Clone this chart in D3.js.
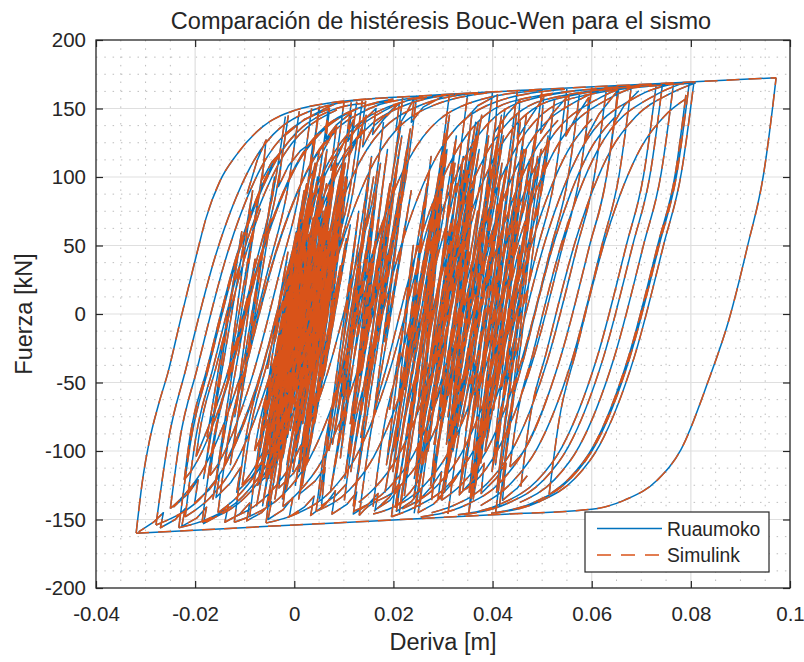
<!DOCTYPE html>
<html><head><meta charset="utf-8">
<script src="https://cdn.jsdelivr.net/npm/d3@7"></script>
<style>
body{margin:0;background:#fff;}
svg text{font-family:"Liberation Sans",Arial,Helvetica,sans-serif;fill:#262626;}
</style></head><body>
<svg id="chart" width="804" height="662"></svg>
<script>
// ---------- axis ticks / labels ----------
const xTickValues = [-0.04,-0.02,0,0.02,0.04,0.06,0.08,0.1];
const xTickLabels = ["-0.04","-0.02","0","0.02","0.04","0.06","0.08","0.1"];
const yTickValues = [-200,-150,-100,-50,0,50,100,150,200];
const yTickLabels = ["-200","-150","-100","-50","0","50","100","150","200"];
const seriesNames = ["Ruaumoko","Simulink"];
const titleText = "Comparación de histéresis Bouc-Wen para el sismo";
const xLabelText = "Deriva [m]";
const yLabelText = "Fuerza [kN]";

// ---------- data: [deriva (m), fuerza (kN)] ----------
const outerLoop = [
 [[-0.0319,-160],[-0.0306,-121],[-0.0293,-94],[-0.0273,-65],[-0.0255,-43],[-0.023,-5],[-0.0196,45],[-0.0178,70],[-0.015,97],[-0.0117,116],[-0.0063,137],[0.0004,149],[0.0071,154],[0.027,159.5],[0.05,164],[0.078,169],[0.0972,172.5]],
 [[0.0972,172.5],[0.0965,151],[0.0948,105],[0.0914,49],[0.0877,-4],[0.0834,-50],[0.078,-99],[0.0733,-121],[0.0665,-136],[0.06,-142.5],[0.04,-146.5],[0.02,-150.3],[0,-154],[-0.02,-157.8],[-0.0319,-160]]
];
const leftRising = [
 [[-0.0279,-154],[-0.0254,-92],[-0.0219,-40.5],[-0.0159,42.5],[-0.0089,107],[0.0031,148],[0.0166,157.5]],
 [[-0.025,-142],[-0.0231,-92],[-0.0196,-40],[-0.0136,43],[-0.0066,107.5],[0.0054,148.5],[0.0091,154.5]],
 [[-0.0233,-156],[-0.0208,-91],[-0.0173,-39.5],[-0.0113,43.5],[-0.0043,108],[0.0077,149],[0.0145,154]],
 [[-0.022,-148],[-0.0199,-91],[-0.0164,-39.5],[-0.0104,43.5],[-0.0034,108],[0.0086,149]],
 [[-0.0198,-104],[-0.0193,-91],[-0.0158,-39],[-0.0098,43.5],[-0.0068,77]],
 [[-0.0186,-152],[-0.0162,-90],[-0.0127,-38.5],[-0.0067,44],[0.0003,108.5],[0.0123,149.5],[0.0212,156]],
 [[-0.0154,-145],[-0.0133,-90],[-0.0098,-38],[-0.0038,44.5],[0.0032,109],[0.0152,150],[0.0242,157.6]],
 [[-0.0121,-152],[-0.0097,-89],[-0.0062,-37.5],[-0.0002,45],[0.0068,110],[0.0188,151],[0.03,159.5]],
 [[-0.009,-148],[-0.0068,-88.5],[-0.0033,-37],[0.0027,46],[0.0097,110.5],[0.0217,151.5],[0.034,161]],
 [[-0.0057,-152.6],[-0.0033,-88],[0.0002,-36.5],[0.0062,46.5],[0.0132,111],[0.0252,152],[0.038,161.8]],
 [[-0.0023,-140.6],[-0.0003,-87.5],[0.0032,-36],[0.0092,47],[0.0162,111.5],[0.0282,152.5],[0.042,162.5]],
 [[-0.0222,-121],[-0.0211,-91],[-0.0176,-40],[-0.0116,43],[-0.0046,108],[0.0004,132]],
 [[-0.017,-118],[-0.016,-90.5],[-0.0125,-39],[-0.0065,44],[0.0005,108.7],[0.0055,132.8],[0.0125,149.5],[0.02,157]],
 [[-0.014,-110],[-0.0132,-90],[-0.0097,-38.4],[-0.0037,44.6],[0.0033,109],[0.0083,133.3]],
 [[-0.0105,-125],[-0.0091,-89],[-0.0056,-37.6],[0.0004,45.4],[0.0074,110],[0.0194,150.8],[0.026,159]],
 [[-0.008,-100],[-0.0075,-89],[-0.004,-37.3],[0.002,45.7],[0.009,110.2],[0.014,134.3]]
];
const leftFalling = [
 [[0.0051,151.5],[0.0026,89],[-0.0009,37.5],[-0.0069,-45.6],[-0.0139,-110],[-0.0189,-134.4],[-0.0259,-151],[-0.0279,-154]],
 [[0.001,148],[-0.0015,88.2],[-0.005,36.7],[-0.011,-46.4],[-0.018,-110.8],[-0.023,-135.2],[-0.025,-142]],
 [[0.0137,155.5],[0.0112,90.6],[0.0077,39.1],[0.0017,-44],[-0.0053,-108.4],[-0.0103,-132.8],[-0.0173,-149.4],[-0.0233,-156]],
 [[0.007,152.5],[0.0045,89.3],[0.001,37.8],[-0.005,-45.3],[-0.012,-109.7],[-0.017,-134.1],[-0.022,-148]],
 [[0.0144,155.5],[0.0119,90.7],[0.0084,39.2],[0.0024,-43.9],[-0.0046,-108.3],[-0.0096,-132.7],[-0.0166,-149.3],[-0.0186,-152]],
 [[0.0126,155],[0.0101,90.4],[0.0066,38.9],[0.0006,-44.2],[-0.0064,-108.6],[-0.0114,-133],[-0.0154,-145]],
 [[0.0219,158.9],[0.0194,92.2],[0.0159,40.7],[0.0099,-42.4],[0.0029,-106.8],[-0.0021,-131.2],[-0.0091,-147.8],[-0.0121,-152]],
 [[0.018,140],[0.0162,91.7],[0.0127,40],[0.0067,-43],[-0.0003,-107.7],[-0.0053,-131.8],[-0.0123,-148.6]],
 [[0.0313,160.6],[0.0288,93.9],[0.0253,42.4],[0.0193,-40.7],[0.0123,-105.1],[0.0073,-129.5],[0.0003,-146.1],[-0.0057,-152.6]],
 [[0.0247,159.4],[0.0222,92.7],[0.0187,41.2],[0.0127,-41.9],[0.0057,-106.3],[0.0007,-130.7],[-0.0023,-140.6]],
 [[-0.0012,145],[-0.0037,87.8],[-0.0072,36.3],[-0.0132,-46.8],[-0.0202,-111.2],[-0.0222,-121]],
 [[-0.0018,144],[-0.0043,87.7],[-0.0078,36.2],[-0.0138,-46.9],[-0.0198,-104]],
 [[0.0035,150],[0.001,88.7],[-0.0025,37.2],[-0.0085,-45.9],[-0.0155,-110.3],[-0.017,-118]],
 [[0.005,151],[0.0025,89],[-0.001,37.5],[-0.007,-45.6],[-0.014,-110]],
 [[0.0115,154.5],[0.009,90.2],[0.0055,38.7],[-0.0005,-44.4],[-0.0075,-108.8],[-0.0105,-125]],
 [[0.01,154],[0.0075,89.9],[0.004,38.4],[-0.002,-44.7],[-0.008,-100]]
];
const rightRising = [
 [[0.0044,-144],[0.0066,-86.4],[0.0101,-34.8],[0.0161,48.2],[0.0231,112.8],[0.0351,153.6],[0.05,163.5]],
 [[0.0101,-136],[0.012,-85.4],[0.0155,-33.8],[0.0215,49.2],[0.0285,113.7],[0.0405,154.6],[0.0546,164]],
 [[0.0131,-147],[0.0155,-84.8],[0.019,-33.2],[0.025,49.8],[0.032,114.4],[0.044,155.2],[0.0655,165.5]],
 [[0.0159,-140.6],[0.018,-84.4],[0.0215,-32.7],[0.0275,50.2],[0.0345,114.8],[0.0465,155.7],[0.068,166.5]],
 [[0.0196,-148],[0.022,-83.6],[0.0255,-32],[0.0315,51],[0.0385,115.5],[0.0505,156.4],[0.073,167]],
 [[0.0222,-133],[0.0241,-83.3],[0.0276,-31.6],[0.0336,51.3],[0.0406,115.9],[0.0526,156.8],[0.0765,168]],
 [[0.0253,-140.6],[0.0275,-82.6],[0.031,-31],[0.037,52],[0.044,116.5],[0.056,157.4],[0.0806,168.6]],
 [[0.0277,-135.8],[0.0297,-82.3],[0.0332,-30.6],[0.0392,52.3],[0.0462,116.9],[0.0582,157.8],[0.063,165]],
 [[0.031,-146],[0.0335,-81.6],[0.037,-29.9],[0.043,53],[0.05,117.6],[0.062,158.5],[0.07,167.5]],
 [[0.0376,-109],[0.0386,-80.6],[0.0421,-29],[0.0481,54],[0.0551,118.5],[0.0601,142.6]],
 [[0.0457,-126],[0.0474,-79],[0.0509,-27.4],[0.0569,55.5],[0.0639,120],[0.0689,144.2],[0.0759,161],[0.081,168.8]],
 [[0.0402,-109],[0.0412,-80.2],[0.0447,-28.6],[0.0507,54.4],[0.0577,119],[0.0697,159.8],[0.0765,168]],
 [[0.0406,-145.2],[0.0431,-79.8],[0.0466,-28.2],[0.0526,54.8],[0.0596,119.3],[0.0646,143.4]],
 [[0.0435,-111.7],[0.0447,-79.6],[0.0482,-28],[0.0542,55],[0.0612,119.6],[0.0732,160.5],[0.078,168]],
 [[0.0297,-136],[0.0317,-81.9],[0.0352,-30.3],[0.0412,52.7],[0.0482,117.3],[0.0532,141.4]],
 [[0.034,-129],[0.0358,-81.2],[0.0393,-29.5],[0.0453,53.5],[0.0523,118],[0.0643,158.9],[0.07,167]],
 [[0.0514,-131.8],[0.0534,-78],[0.0569,-26.4],[0.0629,56.6],[0.0699,121.2],[0.0749,145.3],[0.0789,156.8]]
];
const rightFalling = [
 [[0.0806,168.6],[0.0781,103.3],[0.0746,51.8],[0.0686,-31.3],[0.0616,-95.7],[0.0566,-120.1],[0.0496,-136.7],[0.0406,-145.2]],
 [[0.0797,169.3],[0.0772,103.1],[0.0737,51.6],[0.0677,-31.5],[0.0607,-95.9],[0.0557,-120.3],[0.0487,-136.9],[0.0397,-145.4]],
 [[0.079,160],[0.0769,103.2],[0.0734,51.5],[0.0674,-31.5],[0.0604,-96.1],[0.0554,-120.3],[0.0514,-131.8]],
 [[0.0765,168],[0.074,102.5],[0.0705,51],[0.0645,-32.1],[0.0575,-96.5],[0.0525,-120.9],[0.0455,-137.5]],
 [[0.0743,168.4],[0.0718,102.2],[0.0683,50.7],[0.0623,-32.4],[0.0553,-96.8],[0.0503,-121.2],[0.0433,-137.8],[0.0343,-146.3]],
 [[0.073,167],[0.0705,101.9],[0.067,50.4],[0.061,-32.7],[0.054,-97.1],[0.049,-121.5],[0.042,-138.1],[0.033,-146.6]],
 [[0.068,166.5],[0.0655,100.9],[0.062,49.4],[0.056,-33.7],[0.049,-98.1],[0.044,-122.5],[0.0376,-139.8]],
 [[0.0655,165.5],[0.063,100.4],[0.0595,48.9],[0.0535,-34.2],[0.0465,-98.6],[0.0415,-123],[0.0345,-139.6],[0.0255,-148.1]],
 [[0.063,165],[0.0605,100],[0.057,48.5],[0.051,-34.6],[0.044,-99],[0.039,-123.4],[0.032,-140],[0.0277,-145]],
 [[0.06,165.5],[0.0575,99.4],[0.054,47.9],[0.048,-35.2],[0.041,-99.6],[0.036,-124],[0.034,-129]],
 [[0.055,164.9],[0.0525,98.5],[0.049,47],[0.043,-36.2],[0.036,-100.6],[0.031,-125],[0.024,-141.6],[0.0196,-148]],
 [[0.05,164],[0.0475,97.5],[0.044,46],[0.038,-37.1],[0.031,-101.5],[0.026,-125.9],[0.019,-142.5],[0.0159,-146]],
 [[0.045,163.1],[0.0425,96.5],[0.039,45],[0.033,-38],[0.026,-102.5],[0.021,-126.8],[0.014,-143.4],[0.0131,-147]],
 [[0.04,162.2],[0.0375,95.6],[0.034,44.1],[0.028,-39],[0.021,-103.4],[0.016,-127.8],[0.013,-137.5]],
 [[0.035,161.3],[0.0325,94.7],[0.029,43.2],[0.023,-40],[0.016,-104.4],[0.011,-128.8],[0.0044,-144]],
 [[0.0425,150],[0.0405,96.3],[0.037,44.6],[0.031,-38.4],[0.024,-103],[0.019,-127.2],[0.012,-144]],
 [[0.0525,156],[0.0503,98.2],[0.0468,46.5],[0.0408,-36.5],[0.0338,-101.2],[0.0288,-125.3],[0.0218,-142.2]],
 [[0.0575,160],[0.0552,99.1],[0.0517,47.4],[0.0457,-35.6],[0.0387,-100.2],[0.0337,-124.4],[0.0297,-136]],
 [[0.0646,143.4],[0.063,100.6],[0.0595,48.9],[0.0535,-34.1],[0.0465,-98.8],[0.0435,-111.7]]
];
const centerCycles = [
 [-0.0045,-60],[0.00095,50],[-0.0051,-95],[0.0037,90],[-0.0016,-40],[0.0009,25],[-0.0048,-120],[0.0059,105],
 [-0.0025,-75],[0.0049,70],[0.0009,-30],[0.0046,40],[-0.0023,-105],[0.0075,95],[-0.0024,-135],[0.0061,60],
 [0.0017,-55],[0.0100,115],[0.0006,-85],[0.0088,80],[0.0049,-20],[0.0068,30],[0.0010,-115],[0.0104,100],
 [0.0032,-70],[0.0083,55],[0.0015,-100],[0.0090,85],[0.0027,-45],[0.0059,20],[-0.0014,-125],[0.0086,110],
 [0.0003,-80],[0.0060,65],[0.0009,-35],[0.0048,45],[-0.0030,-110],[0.0055,92],[-0.0012,-65],[0.0044,75],
 [-0.0038,-90],[0.0023,35],[-0.0064,-140],[0.0039,102],[-0.0027,-50],[0.0014,58],[-0.0063,-100],[0.0025,88],
 [-0.0050,-60],[0.0004,50],[-0.0069,-95],[0.0020,90],[-0.0034,-40],[0.0000,25],[-0.0068,-120],[0.0041,105],
 [-0.0034,-75],[0.0029,70],[-0.0009,-30],[0.0029,40],[-0.0039,-105],[0.0059,95],[-0.0039,-135],[0.0046,60],
 [0.0002,-55],[0.0085,115],[-0.0008,-85],[0.0074,80],[0.0035,-20],[0.0055,30],[-0.0003,-115],[0.0100,100],
 [0.0020,-70],[0.0084,55],[0.0020,-100],[0.0099,85],[0.0049,-45],[0.0073,20],[0.0002,-125],[0.0103,110],
 [0.0017,-80],[0.0076,65],[0.0034,-35],[0.0062,45],[-0.0015,-110],[0.0079,92],[0.0001,-65],[0.0058,75],
 [-0.0014,-90],[0.0035,35],[-0.0050,-140],[0.0062,102],[-0.0015,-50],[0.0028,58],[-0.0040,-100],[0.0037,88],
 [-0.0036,-60],[0.0017,50],[-0.0057,-95],[0.0021,90],[-0.0035,-40],[0.0000,25],[-0.0059,-120],[0.0039,105],
 [-0.0034,-75],[0.0038,70],[-0.0011,-30],[0.0029,40],[-0.0030,-105],[0.0057,95],[-0.0039,-135],[0.0055,60],
 [0.0000,-55],[0.0085,115],[0.0001,-85],[0.0072,80],[0.0035,-20],[0.0064,30],[0.0015,-115],[0.0100,100]
];
const centerCyclesWide = [
 [-0.0054,-40],[-0.0013,45],[-0.0069,-90],[0.0025,95],[-0.0039,-20],[0.0004,60],[-0.0085,-130],[0.0042,110],
 [-0.0054,-70],[-0.0001,30],[-0.0067,-110],[0.0051,120],[-0.0036,-50],[0.0026,75],[-0.0076,-140],[0.0047,100],
 [-0.0044,-85],[0.0030,50],[-0.0052,-120],[0.0055,85],[0.0025,-60],[0.0080,40],[0.0022,-100],[0.0098,90],
 [0.0064,-30],[0.0105,55],[0.0016,-125],[0.0102,118],[0.0041,-80],[0.0091,20],[0.0025,-110],[0.0107,100],
 [0.0060,-45],[0.0113,65],[0.0009,-135],[0.0099,105],[0.0041,-70],[0.0093,35],[0.0024,-95],[0.0093,80],
 [-0.0007,-65],[0.0082,112],[-0.0033,-100],[0.0059,70],[-0.0056,-140],[0.0065,95],[-0.0023,-55],[0.0030,40],
 [-0.0055,-115],[0.0066,120],[0.0016,-35],[0.0069,60],[-0.0004,-90],[0.0092,100],[-0.0016,-128],[0.0077,45],
 [0.0018,-75],[0.0077,88],[-0.0030,-105],[0.0042,70]
];
const midCycles = [
 [0.0070,-100],[0.0143,70],[0.0096,-60],[0.0174,110],[0.0073,-130],[0.0156,40],[0.0113,-80],[0.0193,95],
 [0.0132,-45],[0.0217,130],[0.0114,-115],[0.0199,60],[0.0134,-90],[0.0214,85],[0.0119,-140],[0.0207,105],
 [0.0142,-70],[0.0175,50],[0.0102,-120],[0.0188,120],[0.0123,-55],[0.0166,90],[0.0093,-105],[0.0134,35],
 [0.0091,-85],[0.0156,115],[0.0051,-135],[0.0130,75],[0.0084,-65],[0.0160,100],[0.0077,-95],[0.0152,55]
];
const midCyclesUpper = [
 [0.0154,-40],[0.0228,120],[0.0158,-80],[0.0236,90],[0.0182,-20],[0.0234,135],[0.0141,-60],[0.0188,70],
 [0.0110,-100],[0.0184,110],[0.0138,-30],[0.0216,140]
];
const leftCycles = [
 [-0.0176,-90],[-0.0106,60],[-0.0183,-120],[-0.0084,90],[-0.0135,-50],[-0.0061,110],[-0.0164,-135],[-0.0079,40],
 [-0.0120,-75],[-0.0040,100],[-0.0129,-110],[-0.0047,70]
];
const rightCycles = [
 [0.0204,-90],[0.0282,80],[0.0183,-130],[0.0308,120],[0.0251,-60],[0.0285,50],[0.0246,-110],[0.0366,140],
 [0.0242,-145],[0.0365,100],[0.031,-75],[0.0356,65],[0.0307,-120],[0.0422,130],[0.032,-100],[0.0421,90],
 [0.038,-50],[0.0448,145],[0.0361,-135],[0.0474,110],[0.0384,-90],[0.0477,80],[0.0408,-130],[0.0498,120],
 [0.0406,-60],[0.046,50],[0.0371,-110],[0.0456,140],[0.0352,-145],[0.0425,100],[0.034,-75],[0.0406,65],
 [0.0307,-120],[0.0392,130],[0.031,-100],[0.0361,90],[0.029,-50],[0.0378,145],[0.0241,-135],[0.0324,110],
 [0.0254,-90],[0.0297,80],[0.0198,-130],[0.0308,120],[0.0211,-60],[0.024,50],[0.0186,-110],[0.0311,140],
 [0.0212,-145],[0.03,100],[0.0255,-75],[0.0326,65],[0.0242,-120],[0.0367,130],[0.029,-100],[0.0356,90],
 [0.0325,-50],[0.0418,145],[0.0296,-135],[0.0419,110],[0.0354,-90],[0.0412,80],[0.0353,-130],[0.0468,120],
 [0.0386,-60],[0.0455,50],[0.0406,-110],[0.0491,140],[0.0352,-145],[0.046,100]
];
const rightCyclesB = [
 [0.0192,-70],[0.0268,95],[0.0199,-115],[0.0307,130],[0.0214,-140],[0.0309,60],[0.0253,-55],[0.0341,115],
 [0.0270,-100],[0.0358,145],[0.0275,-125],[0.0370,75],[0.0296,-85],[0.0397,105],[0.0354,-40],[0.0416,140],
 [0.0333,-130],[0.0418,45],[0.0352,-95],[0.0463,120],[0.0402,-70],[0.0458,95],[0.0399,-115],[0.0512,130],
 [0.0414,-140],[0.0479,60],[0.0418,-55],[0.0491,115],[0.0385,-100],[0.0468,145],[0.0365,-125],[0.0425,75],
 [0.0346,-85],[0.0427,105],[0.0349,-40],[0.0406,140],[0.0303,-130],[0.0353,45],[0.0282,-95],[0.0373,120],
 [0.0277,-70],[0.0328,95],[0.0249,-115],[0.0327,130],[0.0204,-140],[0.0289,60],[0.0223,-55],[0.0276,115],
 [0.0200,-100],[0.0313,145],[0.0220,-125],[0.0295,75],[0.0251,-85],[0.0342,105],[0.0279,-40],[0.0371,140],
 [0.0278,-130],[0.0343,45],[0.0307,-95],[0.0408,120]
];
const topTeeth = [
 [[-0.0095,88],[-0.0075,112],[-0.0057,127],[-0.0065,98],[-0.0045,111],[-0.0023,120],[-0.0032,93],[-0.0012,108],[0.0012,119],[0.0038,126],[0.0028,97],[0.0048,112],[0.0085,137],[0.0074,105],[0.0095,121],[0.0119,141.6],[0.011,115],[0.013,130],[0.0145,145],[0.0138,122],[0.016,137],[0.0212,154]],
 [[-0.002,130],[0.002,142],[0.0071,150],[0.0064,128],[0.0085,138],[0.0115,147],[0.0108,126],[0.013,138],[0.0165,150],[0.0158,131],[0.018,142],[0.0212,154],[0.0205,134],[0.0225,146],[0.0242,157.6],[0.0236,140],[0.026,151],[0.03,159]],
 [[0.034,140],[0.037,152],[0.041,160],[0.0405,133],[0.043,146],[0.0455,156],[0.045,128],[0.0475,143],[0.0503,158],[0.0497,132],[0.052,146],[0.0554,160],[0.0548,130],[0.057,145],[0.0594,158],[0.0588,128],[0.0615,146],[0.0652,163],[0.0646,140],[0.0665,152],[0.0695,163]]
];
const bottomTeeth = [
 [[0.0105,-124],[0.0085,-132],[0.0055,-140],[0.0062,-112],[0.0042,-122],[0.0012,-131],[0.0019,-104],[-0.0001,-116],[-0.0031,-127],[-0.0024,-100],[-0.0044,-113],[-0.0074,-125],[-0.0066,-108],[-0.0086,-119],[-0.0116,-130],[-0.0108,-112],[-0.0128,-123],[-0.0158,-134],[-0.0151,-118],[-0.0171,-128],[-0.0201,-138],[-0.0194,-121],[-0.0214,-131],[-0.0244,-141]],
 [[0.047,-118],[0.045,-127],[0.042,-136],[0.0427,-109],[0.0407,-120],[0.0377,-131],[0.0383,-109],[0.0363,-120],[0.0333,-132],[0.034,-112],[0.032,-123],[0.029,-135],[0.0297,-115],[0.0277,-126],[0.0247,-138],[0.0254,-120],[0.0234,-130],[0.0204,-141],[0.0211,-124],[0.0191,-134],[0.0161,-144]],
 [[0.03,-132],[0.028,-139],[0.025,-145],[0.0256,-128],[0.0236,-137],[0.0206,-144],[0.0213,-126],[0.0193,-136],[0.0163,-143],[0.0169,-131],[0.0149,-139],[0.0119,-146],[0.0126,-130],[0.0106,-139],[0.0076,-146],[0.0083,-129],[0.0063,-139],[0.0033,-147],[0.004,-133],[0.002,-141],[-0.001,-148],[-0.0003,-134],[-0.0023,-143],[-0.0053,-150],[-0.0046,-137],[-0.0066,-145],[-0.0096,-151],[-0.009,-138],[-0.011,-146],[-0.014,-152],[-0.0133,-139],[-0.0153,-147],[-0.0183,-153],[-0.0177,-141],[-0.0197,-149],[-0.0227,-155],[-0.022,-142],[-0.024,-150],[-0.027,-156],[-0.0264,-145],[-0.0284,-152],[-0.0314,-159]]
];

// ---------- styling ----------
const colBlue = "#0072BD", colOrange = "#D95319", axisCol = "#262626";
const W = 804, H = 662;
const plotL = 96, plotR = 790, plotT = 40, plotB = 588;
const lineW = 1.5;

const svg = d3.select("#chart");
svg.append("rect").attr("width",W).attr("height",H).attr("fill","#fff");

const x = d3.scaleLinear().domain([-0.04,0.1]).range([plotL,plotR]);
const y = d3.scaleLinear().domain([-200,200]).range([plotB,plotT]);

// grids
const xMinor = d3.range(0,29).filter(i=>i%4!==0).map(i=>-0.04+i*0.005);
const yMinor = d3.range(0,33).filter(i=>i%4!==0).map(i=>-200+i*12.5);
const grid = svg.append("g");
grid.selectAll(".xm").data(xMinor).enter().append("line")
  .attr("x1",d=>x(d)).attr("x2",d=>x(d)).attr("y1",plotT).attr("y2",plotB)
  .attr("stroke","#bdbdbd").attr("stroke-width",1).attr("stroke-dasharray","1.5,6.8");
grid.selectAll(".ym").data(yMinor).enter().append("line")
  .attr("y1",d=>y(d)).attr("y2",d=>y(d)).attr("x1",plotL).attr("x2",plotR)
  .attr("stroke","#bdbdbd").attr("stroke-width",1).attr("stroke-dasharray","1.5,6.8");
grid.selectAll(".xM").data(xTickValues.slice(1,-1)).enter().append("line")
  .attr("x1",d=>x(d)).attr("x2",d=>x(d)).attr("y1",plotT).attr("y2",plotB)
  .attr("stroke","#dfdfdf").attr("stroke-width",1.2);
grid.selectAll(".yM").data(yTickValues.slice(1,-1)).enter().append("line")
  .attr("y1",d=>y(d)).attr("y2",d=>y(d)).attr("x1",plotL).attr("x2",plotR)
  .attr("stroke","#dfdfdf").attr("stroke-width",1.2);

// clip
svg.append("clipPath").attr("id","clip").append("rect")
  .attr("x",plotL).attr("y",plotT).attr("width",plotR-plotL).attr("height",plotB-plotT);

const smoothLine = d3.line().x(d=>x(d[0])).y(d=>y(d[1])).curve(d3.curveMonotoneX);
const straightLine = d3.line().x(d=>x(d[0])).y(d=>y(d[1]));

const smoothBranches = [].concat(outerLoop, leftRising, leftFalling, rightRising, rightFalling);
const polyBranches = [centerCycles, centerCyclesWide, midCycles, midCyclesUpper, leftCycles, rightCycles, rightCyclesB].concat(topTeeth, bottomTeeth);

function buildPath(){
  let d = "";
  polyBranches.forEach(b => { d += straightLine(b); });
  smoothBranches.forEach(b => { d += smoothLine(b.slice().sort((p,q)=>p[0]-q[0])); });
  return d;
}
const dataG = svg.append("g").attr("clip-path","url(#clip)");
// Ruaumoko
dataG.append("path").attr("d",buildPath()).attr("fill","none")
  .attr("stroke",colBlue).attr("stroke-width",lineW).attr("stroke-linejoin","round");
// Simulink
dataG.append("path").attr("d",buildPath()).attr("fill","none")
  .attr("stroke",colOrange).attr("stroke-width",lineW).attr("stroke-dasharray","13,9").attr("stroke-linejoin","round");

// axes
const fs = 20.5;
const axB = d3.axisBottom(x).tickValues(xTickValues).tickFormat((d,i)=>xTickLabels[i]).tickSizeInner(-7).tickSizeOuter(0).tickPadding(18);
const axT = d3.axisTop(x).tickValues(xTickValues).tickFormat("").tickSizeInner(-7).tickSizeOuter(0);
const axL = d3.axisLeft(y).tickValues(yTickValues).tickFormat((d,i)=>yTickLabels[i]).tickSizeInner(-7).tickSizeOuter(0).tickPadding(10);
const axR = d3.axisRight(y).tickValues(yTickValues).tickFormat("").tickSizeInner(-7).tickSizeOuter(0);
function styleAxis(g){
  g.select(".domain").remove();
  g.selectAll("line").attr("stroke",axisCol).attr("stroke-width",1.2);
  g.selectAll("text").attr("fill",axisCol).style("font-size",fs+"px")
   .style("font-family","'Liberation Sans',Arial,Helvetica,sans-serif");
}
svg.append("g").attr("transform",`translate(0,${plotB})`).call(axB).call(styleAxis);
svg.append("g").attr("transform",`translate(0,${plotT})`).call(axT).call(styleAxis);
svg.append("g").attr("transform",`translate(${plotL},0)`).call(axL).call(styleAxis);
svg.append("g").attr("transform",`translate(${plotR},0)`).call(axR).call(styleAxis);

svg.append("rect").attr("x",plotL).attr("y",plotT).attr("width",plotR-plotL).attr("height",plotB-plotT)
  .attr("fill","none").attr("stroke",axisCol).attr("stroke-width",1.3);

// labels
svg.append("text").attr("x",(plotL+plotR)/2-2).attr("y",28.5).attr("text-anchor","middle")
  .style("font-size","23.5px").attr("fill","#000").text(titleText);
svg.append("text").attr("x",(plotL+plotR)/2).attr("y",650).attr("text-anchor","middle")
  .style("font-size","23.5px").text(xLabelText);
svg.append("text").attr("transform",`translate(32,${(plotT+plotB)/2}) rotate(-90)`).attr("text-anchor","middle")
  .style("font-size","23.5px").text(yLabelText);

// legend
const lg = svg.append("g");
lg.append("rect").attr("x",585).attr("y",512).attr("width",184).attr("height",60)
  .attr("fill","#fff").attr("stroke",axisCol).attr("stroke-width",1.2);
const legendColors = [colBlue, colOrange];
seriesNames.forEach((name,i)=>{
  const ly = 528.5 + i*26.5;
  lg.append("line").attr("x1",597).attr("x2",662).attr("y1",ly).attr("y2",ly)
    .attr("stroke",legendColors[i]).attr("stroke-width",1.3)
    .attr("stroke-dasharray", i===1 ? "14,10" : null);
  lg.append("text").attr("x",667).attr("y",ly+7).style("font-size","19.3px").attr("fill","#000").text(name);
});
</script>
</body></html>
